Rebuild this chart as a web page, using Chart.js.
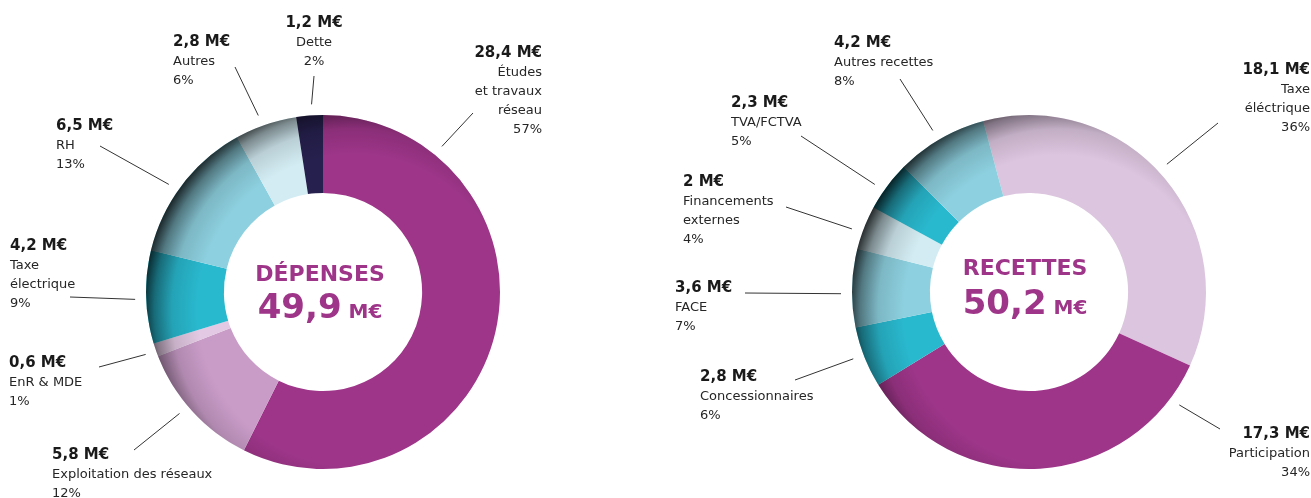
<!DOCTYPE html>
<html>
<head>
<meta charset="utf-8">
<script src="https://cdn.jsdelivr.net/npm/chart.js@4.4.1/dist/chart.umd.min.js"></script>
<style>
  html, body { margin: 0; background: #fff; }
  #wrap { position: relative; width: 1311px; height: 498px; }
  canvas { position: absolute; top: 0; }
</style>
</head>
<body>
<div id="wrap">
  <canvas id="dep" width="655" height="498" style="left:0"></canvas>
  <canvas id="rec" width="656" height="498" style="left:655px"></canvas>
</div>
<script>
// Dépenses
const depLabels = ['Études\net travaux\nréseau', 'Exploitation des réseaux', 'EnR & MDE', 'Taxe\nélectrique', 'RH', 'Autres', 'Dette'];
const depValues = [28.4, 5.8, 0.6, 4.2, 6.5, 2.8, 1.2];
const depPercents = [57, 12, 1, 9, 13, 6, 2];
const depTitle = 'DÉPENSES';
const depTotal = 49.9;

// Recettes
const recLabels = ['Taxe\néléctrique', 'Participation', 'Concessionnaires', 'FACE', 'Financements\nexternes', 'TVA/FCTVA', 'Autres recettes'];
const recValues = [18.1, 17.3, 2.8, 3.6, 2, 2.3, 4.2];
const recPercents = [36, 34, 6, 7, 4, 5, 8];
const recTitle = 'RECETTES';
const recTotal = 50.2;

const depColors = ['#9e3589', '#c99cc8', '#e3c9e3', '#29b9cf', '#8dd0df', '#d3ecf3', '#26204e'];
const recColors = ['#dcc5df', '#9e3589', '#29b9cf', '#8dd0df', '#d3ecf3', '#29b9cf', '#8dd0df'];
const purple = '#9e3589';

// label placement: text anchor (x, baseline y, align), leader line end (lx, ly),
// t = where along the slice the leader starts
const depLayout = [
  { x: 542, y: 57, align: 'right', lx: 473, ly: 113, t: 0.19 },
  { x: 52, y: 459, align: 'left', lx: 134, ly: 450, t: 0.55 },
  { x: 9, y: 367, align: 'left', lx: 99, ly: 367, t: 0.43 },
  { x: 10, y: 250, align: 'left', lx: 70, ly: 297, t: 0.48 },
  { x: 56, y: 130, align: 'left', lx: 100, ly: 146, t: 0.45 },
  { x: 173, y: 46, align: 'left', lx: 235, ly: 67, t: 0.44 },
  { x: 314, y: 27, align: 'center', lx: 314, ly: 76, t: 0.6 }
];
const recLayout = [
  { x: 655, y: 74, align: 'right', lx: 563, ly: 123, t: 0.48 },
  { x: 655, y: 438, align: 'right', lx: 565, ly: 429, t: 0.1 },
  { x: 45, y: 381, align: 'left', lx: 140, ly: 380, t: 0.54 },
  { x: 20, y: 292, align: 'left', lx: 90, ly: 293, t: 0.43 },
  { x: 28, y: 186, align: 'left', lx: 131, ly: 207, t: 0.38 },
  { x: 76, y: 107, align: 'left', lx: 146, ly: 136, t: 0.39 },
  { x: 179, y: 47, align: 'left', lx: 245, ly: 79, t: 0.475 }
];

const fmt = v => String(v).replace('.', ',') + ' M€';

const callouts = {
  id: 'callouts',
  afterDatasetsDraw(chart, args, opts) {
    const ctx = chart.ctx;
    const arcs = chart.getDatasetMeta(0).data;
    const cx = arcs[0].x, cy = arcs[0].y;
    const outer = arcs[0].outerRadius, inner = arcs[0].innerRadius;

    // darker rim, stronger on the upper left
    ctx.save();
    ctx.beginPath();
    ctx.arc(cx, cy, outer, 0, Math.PI * 2);
    ctx.arc(cx, cy, inner, 0, Math.PI * 2, true);
    ctx.clip();
    const gx = cx + 30, gy = cy + 18;
    const g = ctx.createRadialGradient(gx, gy, outer - 22, gx, gy, outer + 36);
    g.addColorStop(0, 'rgba(0,0,0,0)');
    g.addColorStop(0.45, 'rgba(0,0,0,0.12)');
    g.addColorStop(0.75, 'rgba(0,0,0,0.42)');
    g.addColorStop(1, 'rgba(0,0,0,0.85)');
    ctx.fillStyle = g;
    ctx.fillRect(cx - outer - 30, cy - outer - 30, outer * 2 + 60, outer * 2 + 60);
    ctx.restore();

    // leader lines and labels
    const values = chart.data.datasets[0].data;
    ctx.save();
    ctx.strokeStyle = '#333';
    ctx.lineWidth = 1;
    arcs.forEach((arc, i) => {
      const p = opts.layout[i];
      const a = arc.startAngle + p.t * (arc.endAngle - arc.startAngle);
      const r = arc.outerRadius + 11;
      ctx.beginPath();
      ctx.moveTo(cx + r * Math.cos(a), cy + r * Math.sin(a));
      ctx.lineTo(p.lx, p.ly);
      ctx.stroke();

      ctx.textAlign = p.align;
      ctx.textBaseline = 'alphabetic';
      ctx.fillStyle = '#1a1a1a';
      ctx.font = 'bold 15px "DejaVu Sans"';
      ctx.fillText(fmt(values[i]), p.x, p.y);
      ctx.font = '13px "DejaVu Sans"';
      ctx.fillStyle = '#262626';
      const lines = chart.data.labels[i].split('\n');
      lines.push(opts.percents[i] + '%');
      lines.forEach((s, k) => ctx.fillText(s, p.x, p.y + 19 * (k + 1)));
    });

    // centre text
    ctx.fillStyle = purple;
    ctx.textAlign = 'center';
    ctx.font = 'bold 22px "DejaVu Sans"';
    ctx.fillText(opts.title, cx + opts.dx, cy + opts.titleDy);
    const num = String(opts.total).replace('.', ',');
    ctx.font = 'bold 34px "DejaVu Sans"';
    const w1 = ctx.measureText(num).width;
    ctx.font = 'bold 20px "DejaVu Sans"';
    const w2 = ctx.measureText('M€').width;
    const x0 = cx + opts.dx - (w1 + 7 + w2) / 2;
    ctx.textAlign = 'left';
    ctx.font = 'bold 34px "DejaVu Sans"';
    ctx.fillText(num, x0, cy + opts.numDy);
    ctx.font = 'bold 20px "DejaVu Sans"';
    ctx.fillText('M€', x0 + w1 + 7, cy + opts.numDy);
    ctx.restore();
  }
};

function makeDoughnut(id, labels, values, colors, rotation, padding, extra) {
  return new Chart(document.getElementById(id), {
    type: 'doughnut',
    data: {
      labels: labels,
      datasets: [{
        data: values,
        backgroundColor: colors,
        borderWidth: 0,
        hoverOffset: 0,
        offset: 0
      }]
    },
    options: {
      responsive: false,
      animation: false,
      cutout: '56%',
      rotation: rotation,
      layout: { padding: padding },
      events: [],
      plugins: {
        legend: { display: false },
        tooltip: { enabled: false },
        callouts: extra
      }
    },
    plugins: [callouts]
  });
}

makeDoughnut('dep', depLabels, depValues, depColors, 0,
  { left: 146, right: 155, top: 115, bottom: 29 },
  { layout: depLayout, percents: depPercents, title: depTitle, total: depTotal, dx: -3, titleDy: -11, numDy: 26 });

makeDoughnut('rec', recLabels, recValues, recColors, -15,
  { left: 197, right: 105, top: 115, bottom: 29 },
  { layout: recLayout, percents: recPercents, title: recTitle, total: recTotal, dx: -4, titleDy: -17, numDy: 22 });
</script>
</body>
</html>
